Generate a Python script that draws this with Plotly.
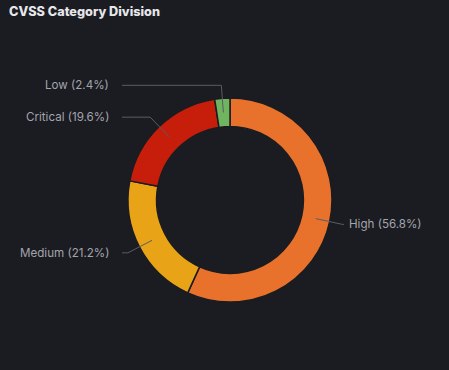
import math
import plotly.graph_objects as go

# ---- data ----
categories = ["High", "Medium", "Critical", "Low"]
percentages = [56.8, 21.2, 19.6, 2.4]
colors = ["#E8722C", "#E9A317", "#C61E0A", "#6FB45E"]
title_text = "CVSS Category Division"

# ---- layout geometry (pixels) ----
W, H = 449, 370
CX, CY = 230, 200          # donut centre
R_OUT = 102
HOLE = 0.72
R_MID = R_OUT * (1 + HOLE) / 2
R_ELBOW = 115
LEFT_LINE_END = 122
RIGHT_LINE_END = 344
LABEL_GAP = 11
BG = "#1B1C21"
LABEL_COLOR = "#A3A5AE"
LINE_COLOR = "#5A5C64"

def px(x):
    return x / W

def py(y):
    return 1 - y / H

fig = go.Figure()
fig.add_trace(go.Pie(
    labels=categories,
    values=percentages,
    hole=HOLE,
    sort=False,
    direction="clockwise",
    rotation=0,
    textinfo="none",
    hoverinfo="label+percent",
    marker=dict(colors=colors, line=dict(color="#1B1C21", width=1.5)),
    domain=dict(x=[px(CX - R_OUT), px(CX + R_OUT)], y=[py(CY + R_OUT), py(CY - R_OUT)]),
    showlegend=False,
))

# leader lines + labels computed from slice angles
total = sum(percentages)
cum = 0.0
shapes = []
annotations = []
elbows = []
for cat, val in zip(categories, percentages):
    mid = (cum + val / 2) / total
    cum += val
    ang = 2 * math.pi * mid   # clockwise from 12 o'clock
    sx, sy = CX + R_MID * math.sin(ang), CY - R_MID * math.cos(ang)
    ex, ey = CX + R_ELBOW * math.sin(ang), CY - R_ELBOW * math.cos(ang)
    elbows.append([cat, val, sx, sy, ex, ey])

# avoid overlap of left-side labels
left = sorted([e for e in elbows if e[4] < CX], key=lambda e: e[5])
for a, b in zip(left, left[1:]):
    if b[5] - a[5] < 28:
        a[5] = b[5] - 34

for cat, val, sx, sy, ex, ey in elbows:
    right = ex >= CX
    lx = RIGHT_LINE_END if right else LEFT_LINE_END
    shapes.append(dict(type="path",
                       path=f"M {px(sx)} {py(sy)} L {px(ex)} {py(ey)} L {px(lx)} {py(ey)}",
                       xref="paper", yref="paper",
                       line=dict(color=LINE_COLOR, width=1), layer="above"))
    annotations.append(dict(
        x=px(lx + (LABEL_GAP - 8 if right else -LABEL_GAP)), y=py(ey),
        xref="paper", yref="paper",
        text=f"{cat} ({val}%)", showarrow=False,
        xanchor="left" if right else "right", yanchor="middle",
        font=dict(family="Inter, Roboto, sans-serif", size=11.6, color=LABEL_COLOR),
    ))

annotations.append(dict(
    x=px(7), y=py(11), xref="paper", yref="paper",
    text=title_text, showarrow=False,
    xanchor="left", yanchor="middle",
    font=dict(family="Inter, Roboto, sans-serif", size=12.7, color="#E6E7EB", weight=800),
))

fig.update_layout(
    width=W, height=H,
    margin=dict(l=0, r=0, t=0, b=0),
    paper_bgcolor=BG, plot_bgcolor=BG,
    shapes=shapes, annotations=annotations,
)

fig.write_html(
    "out.html",
    config={"displayModeBar": False},
    post_script="document.body.style.margin='0';document.body.style.background='#1B1C21';",
)
